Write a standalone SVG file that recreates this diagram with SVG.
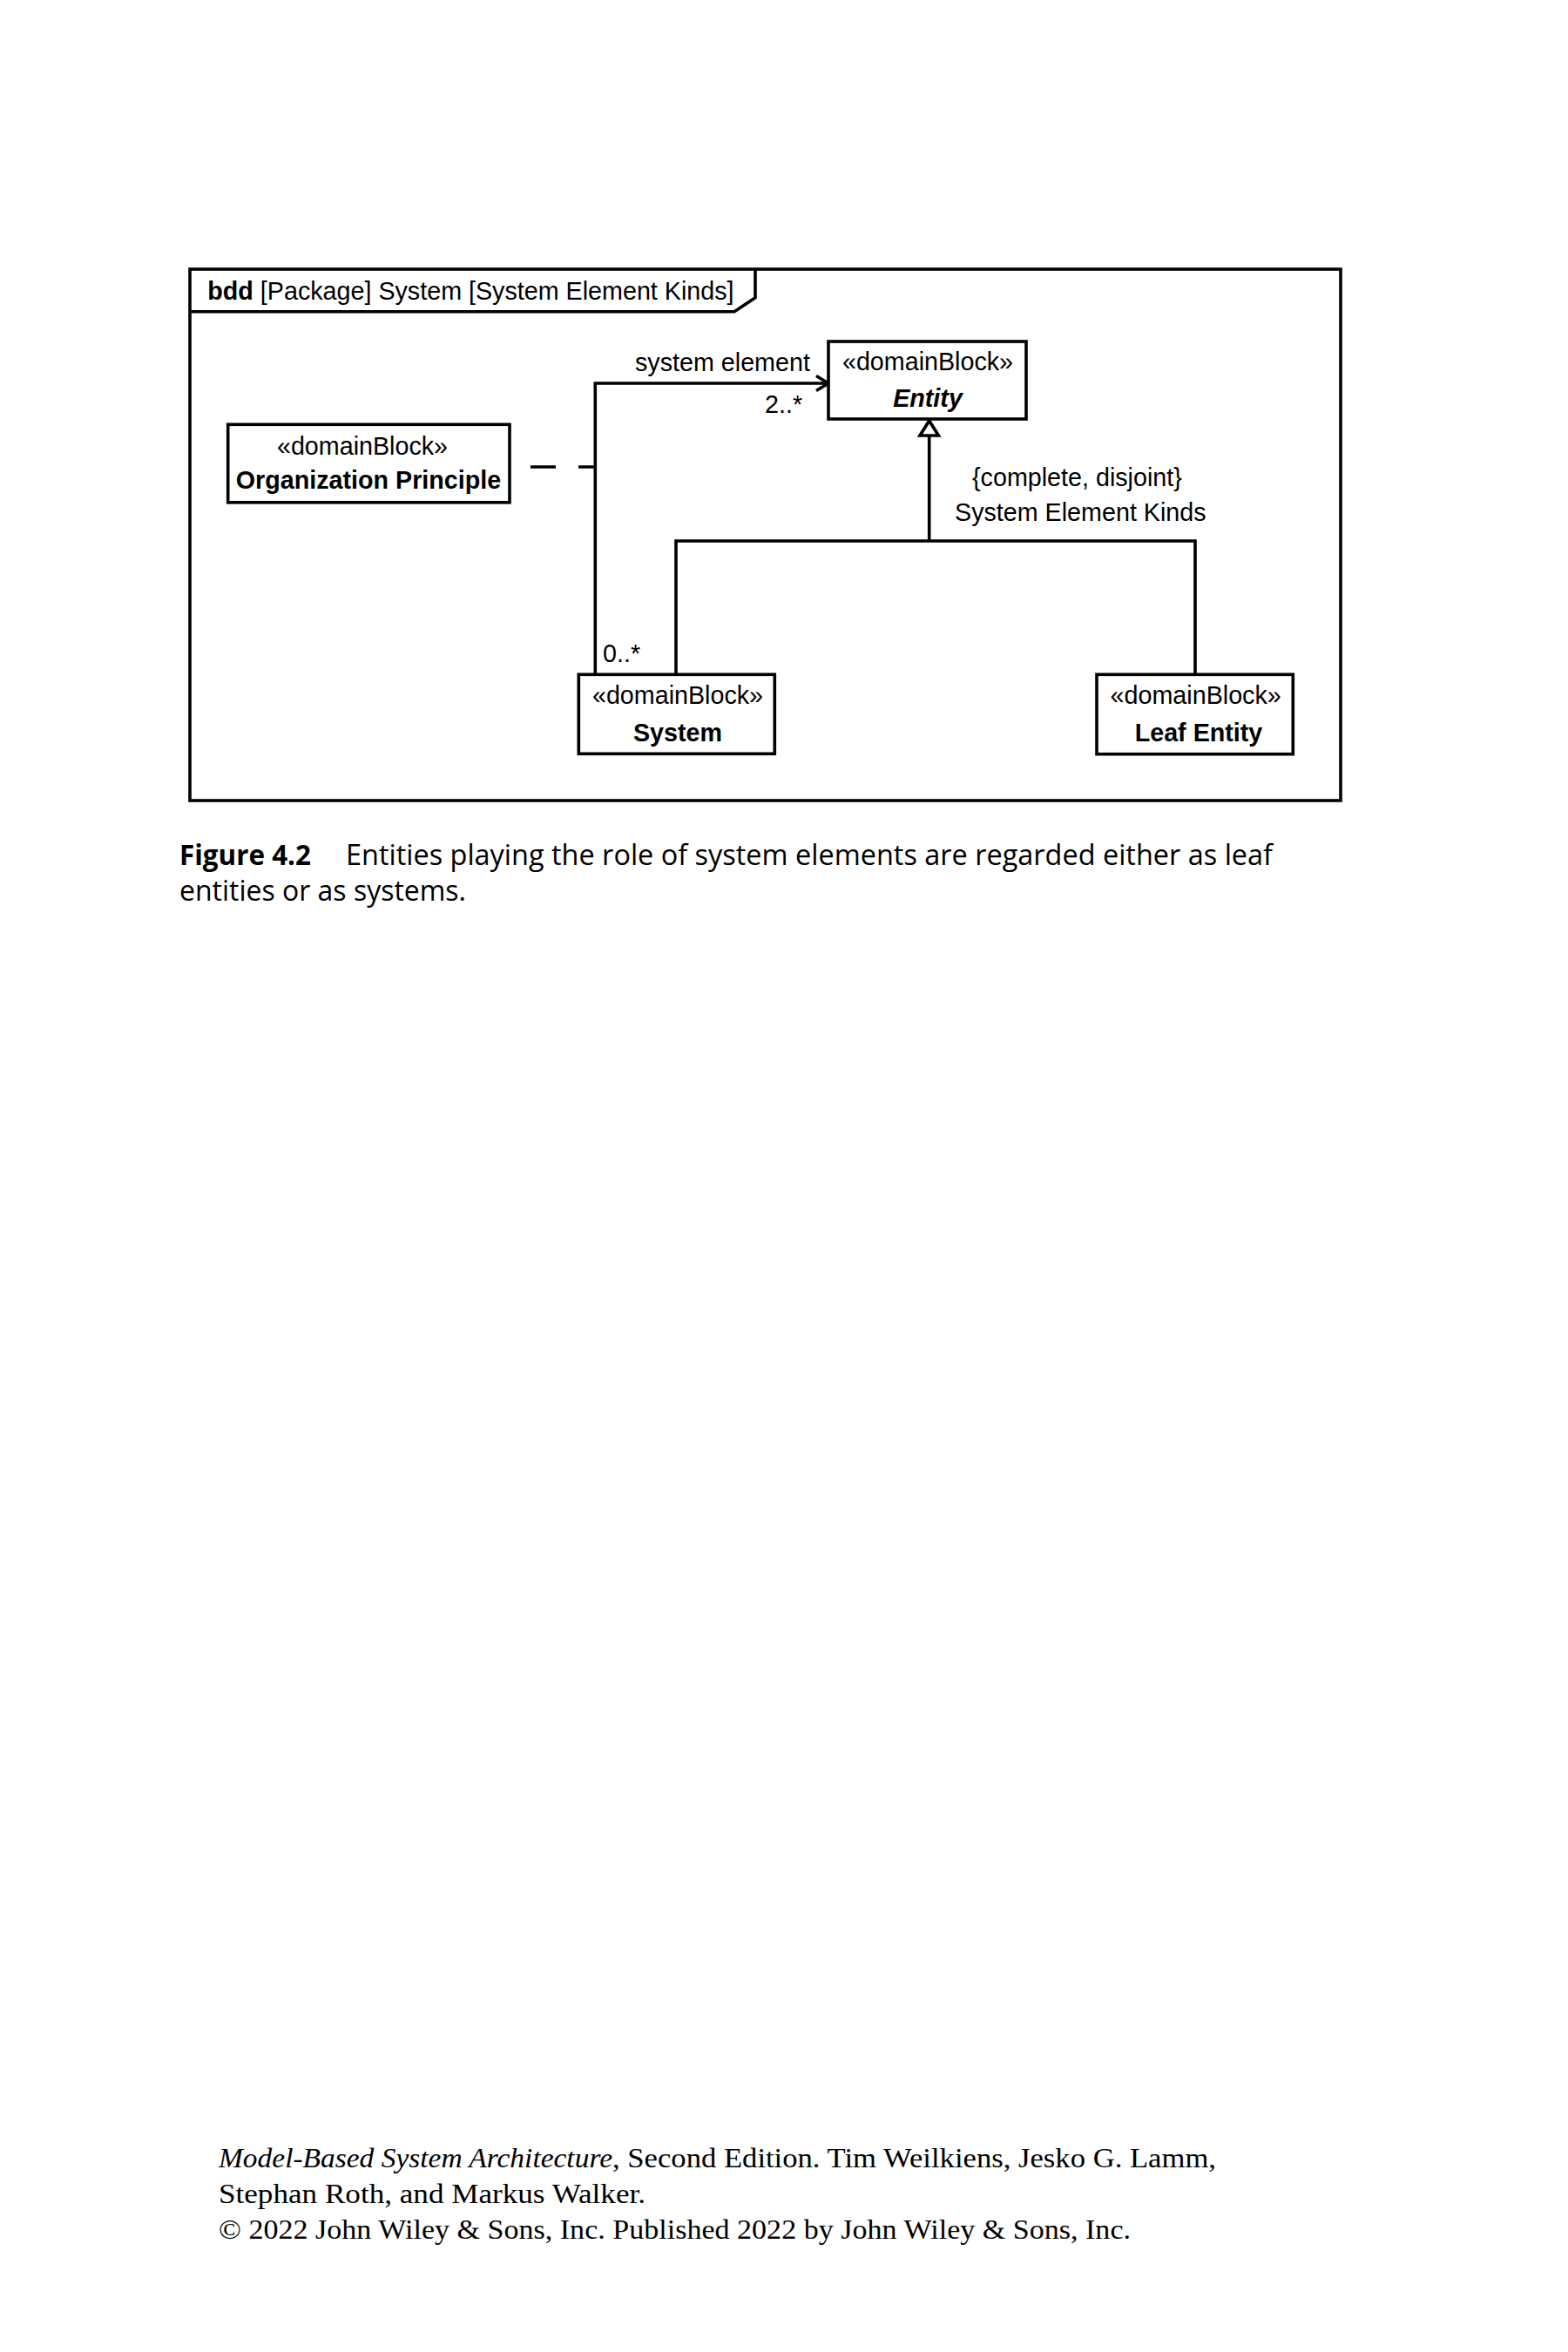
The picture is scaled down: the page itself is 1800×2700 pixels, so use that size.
<svg xmlns="http://www.w3.org/2000/svg" width="1800" height="2700" viewBox="0 0 1800 2700">
<style>
.ln{fill:none;stroke:#000;stroke-width:3.6;stroke-linejoin:miter}
.box{fill:#fff;stroke:#000;stroke-width:3.6}
.t{font-family:"Liberation Sans",Arial,sans-serif;font-size:28.7px;fill:#000}
.c{text-anchor:middle}
.b{font-weight:bold}
.cap{font-family:"Open Sans","Noto Sans",sans-serif;font-size:32px;fill:#000}
.ft{font-family:"Liberation Serif","Times New Roman",serif;font-size:32px;fill:#000}
</style>
<rect width="1800" height="2700" fill="#fff"/>
<g id="frame">
<rect class="ln" x="218" y="309" width="1321" height="610"/>
<path class="ln" d="M218,357.7 H843 L867,341.7 V309"/>
<text class="t" x="238.3" y="344.3"><tspan class="b">bdd</tspan> [Package] System [System Element Kinds]</text>
</g>
<g id="connectors">
<line class="ln" x1="609" y1="536" x2="683" y2="536" stroke-dasharray="29 26"/>
<path class="ln" d="M683.3,774 V440 H950"/>
<polyline class="ln" points="937,431.5 951,440 937,448.5"/>
<path class="ln" d="M1066.7,500 V621 M776,774 V621 H1372 V774"/>
<polygon class="box" points="1066.7,483 1056,500 1077.4,500"/>
<text class="t" x="729" y="426">system element</text>
<text class="t" x="878" y="474">2..*</text>
<text class="t" x="692" y="760">0..*</text>
<text class="t" x="1116" y="558">{complete, disjoint}</text>
<text class="t" x="1096" y="598">System Element Kinds</text>
</g>
<g id="organization-principle">
<rect class="box" x="261.7" y="487.3" width="323.3" height="89.5"/>
<text class="t c" x="416" y="522">«domainBlock»</text>
<text class="t c b" x="423" y="561">Organization Principle</text>
</g>
<g id="entity">
<rect class="box" x="951" y="392" width="227" height="89"/>
<text class="t c" x="1065" y="425">«domainBlock»</text>
<text class="t c b" x="1065" y="467" font-style="italic">Entity</text>
</g>
<g id="system">
<rect class="box" x="664.3" y="774.3" width="225" height="91"/>
<text class="t c" x="778" y="808">«domainBlock»</text>
<text class="t c b" x="778" y="851">System</text>
</g>
<g id="leaf-entity">
<rect class="box" x="1259" y="774.3" width="225.3" height="91.4"/>
<text class="t c" x="1372.7" y="808">«domainBlock»</text>
<text class="t c b" x="1376" y="851">Leaf Entity</text>
</g>
<g id="caption">
<text class="cap b" x="206" y="993" textLength="151" lengthAdjust="spacingAndGlyphs">Figure 4.2</text>
<text class="cap" x="397" y="993" textLength="1064" lengthAdjust="spacingAndGlyphs">Entities playing the role of system elements are regarded either as leaf</text>
<text class="cap" x="206" y="1034" textLength="329" lengthAdjust="spacingAndGlyphs">entities or as systems.</text>
</g>
<g id="footer">
<text class="ft" x="251" y="2488" font-style="italic" textLength="452" lengthAdjust="spacingAndGlyphs">Model-Based System Architecture</text>
<text class="ft" x="703" y="2488" textLength="693" lengthAdjust="spacingAndGlyphs">, Second Edition. Tim Weilkiens, Jesko G. Lamm,</text>
<text class="ft" x="251" y="2529" textLength="490" lengthAdjust="spacingAndGlyphs">Stephan Roth, and Markus Walker.</text>
<text class="ft" x="251" y="2570" textLength="1047" lengthAdjust="spacingAndGlyphs">© 2022 John Wiley &amp; Sons, Inc. Published 2022 by John Wiley &amp; Sons, Inc.</text>
</g>
</svg>
